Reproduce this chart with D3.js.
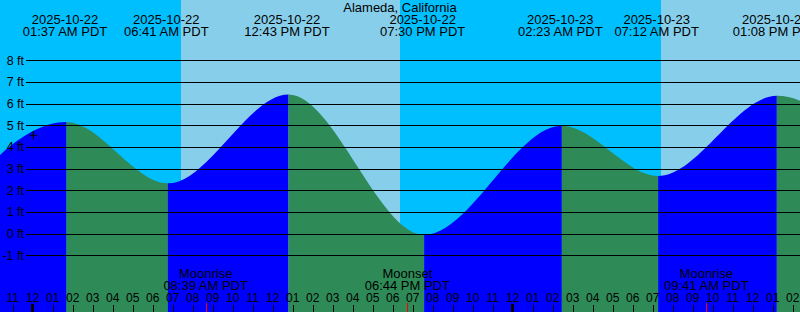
<!DOCTYPE html>
<html>
<head>
<meta charset="utf-8">
<script src="https://cdn.jsdelivr.net/npm/d3@7"></script>
<style>
  body { margin: 0; background: #fff; }
  svg { display: block; font-family: "Liberation Sans", Arial, sans-serif; }
</style>
</head>
<body>
<div id="chart"></div>
<script>
// chart data
var station = "Alameda, California";
var tideTimes = ["2025-10-21 18:40", "2025-10-22 01:37", "2025-10-22 06:41", "2025-10-22 12:43",
                 "2025-10-22 19:30", "2025-10-23 02:23", "2025-10-23 07:12", "2025-10-23 13:08",
                 "2025-10-23 20:20"];
var tideHeights = [-0.1, 5.15, 2.32, 6.42, -0.06, 4.98, 2.66, 6.36, 0.3];
var sunrises = ["2025-10-22 07:25", "2025-10-23 07:25"];
var sunsets = ["2025-10-21 18:21", "2025-10-22 18:22", "2025-10-23 18:21"];
var moonTimes = ["2025-10-22 08:39", "2025-10-22 18:44", "2025-10-23 09:41"];
var moonNames = ["Moonrise", "Moonset", "Moonrise"];
var nowMark = {time: "2025-10-22 00:02", height: 4.54};
var heightTicks = [-1, 0, 1, 2, 3, 4, 5, 6, 7, 8];

// set the dimensions of the graph
var width = 800,
    height = 312;

var parse = d3.utcParse("%Y-%m-%d %H:%M");
var fmtDate = d3.utcFormat("%Y-%m-%d"),
    fmtTime = d3.utcFormat("%I:%M %p PDT"),
    fmtHour = d3.utcFormat("%I");

var svg = d3.select("#chart")
  .append("svg")
    .attr("width", width)
    .attr("height", height);

var x = d3.scaleUtc()
    .domain([parse("2025-10-21 22:22"), parse("2025-10-23 14:22")])
    .range([0, width]);

var y = d3.scaleLinear()
    .domain([-1, 8])
    .range([255.3, 60.3]);

var tides = tideTimes.map(function(t, i) { return {time: parse(t), h: tideHeights[i]}; });

// night background, then day bands on top
svg.append("rect")
    .attr("width", width)
    .attr("height", height)
    .style("fill", "#00bfff");

var days = sunrises.map(function(s, i) { return [parse(s), parse(sunsets[i + 1])]; });
svg.selectAll("dayBand")
  .data(days)
  .enter()
  .append("rect")
    .attr("x", function(d) { return x(d[0]); })
    .attr("y", 0)
    .attr("width", function(d) { return x(d[1]) - x(d[0]); })
    .attr("height", height)
    .style("fill", "#87ceeb");

// tide area used as a clip, coloured by rising / falling
var area = d3.area()
    .curve(d3.curveMonotoneX)
    .x(function(d) { return x(d.time); })
    .y0(height)
    .y1(function(d) { return y(d.h); });

// the original plots its curve a touch right of the labels
var tideLayer = svg.append("g")
    .attr("transform", "translate(1.5,0)");

tideLayer.append("clipPath")
    .attr("id", "tideClip")
  .append("path")
    .attr("d", area(tides));

var segments = d3.pairs(tides);
tideLayer.append("g")
    .attr("clip-path", "url(#tideClip)")
  .selectAll("rect")
  .data(segments)
  .enter()
  .append("rect")
    .attr("x", function(d) { return x(d[0].time); })
    .attr("y", 0)
    .attr("width", function(d) { return x(d[1].time) - x(d[0].time); })
    .attr("height", height)
    .style("fill", function(d) { return d[1].h > d[0].h ? "#0000ff" : "#2e8b57"; });

// height grid lines and labels
svg.selectAll("gridLine")
  .data(heightTicks)
  .enter()
  .append("line")
    .attr("x1", 26)
    .attr("x2", width)
    .attr("y1", function(d) { return Math.round(y(d)) + 0.5; })
    .attr("y2", function(d) { return Math.round(y(d)) + 0.5; })
    .style("stroke", "black")
    .style("stroke-width", 1);

svg.selectAll("gridLabel")
  .data(heightTicks)
  .enter()
  .append("text")
    .attr("x", 24)
    .attr("y", function(d) { return y(d) + 4.5; })
    .attr("text-anchor", "end")
    .style("font-size", "12.5px")
    .text(function(d) { return d + " ft"; });

// title
svg.append("text")
    .attr("x", width / 2)
    .attr("y", 11.5)
    .attr("text-anchor", "middle")
    .style("font-size", "13px")
    .text(station);

// high / low labels at the top
var shown = tides.filter(function(d) { return d.time > x.domain()[0] && d.time < x.domain()[1]; });
var tideLabels = svg.selectAll("tideLabel")
  .data(shown)
  .enter()
  .append("text")
    .attr("text-anchor", "middle")
    .style("font-size", "13px");
tideLabels.append("tspan")
    .attr("x", function(d) { return x(d.time); })
    .attr("y", 24)
    .text(function(d) { return fmtDate(d.time); });
tideLabels.append("tspan")
    .attr("x", function(d) { return x(d.time); })
    .attr("y", 36)
    .text(function(d) { return fmtTime(d.time); });

// moon events
var moons = moonTimes.map(function(t, i) { return {time: parse(t), name: moonNames[i]}; });
var moonLabels = svg.selectAll("moonLabel")
  .data(moons)
  .enter()
  .append("text")
    .attr("text-anchor", "middle")
    .style("font-size", "13px");
moonLabels.append("tspan")
    .attr("x", function(d) { return x(d.time); })
    .attr("y", 277.5)
    .text(function(d) { return d.name; });
moonLabels.append("tspan")
    .attr("x", function(d) { return x(d.time); })
    .attr("y", 289.5)
    .text(function(d) { return fmtTime(d.time); });

// hour axis
var hours = d3.utcHour.range(x.domain()[0], x.domain()[1]);
svg.selectAll("hourLabel")
  .data(hours)
  .enter()
  .append("text")
    .attr("x", function(d) { return x(d); })
    .attr("y", 301.5)
    .attr("text-anchor", "middle")
    .style("font-size", "12px")
    .text(function(d) { return fmtHour(d); });

svg.selectAll("hourTick")
  .data(hours)
  .enter()
  .append("line")
    .attr("x1", function(d) { return d.getUTCHours() === 0 ? Math.round(x(d)) - 0.5 : Math.round(x(d)) + 0.5; })
    .attr("x2", function(d) { return d.getUTCHours() === 0 ? Math.round(x(d)) - 0.5 : Math.round(x(d)) + 0.5; })
    .attr("y1", function(d) { return d.getUTCHours() === 0 ? 304 : 305; })
    .attr("y2", height)
    .style("stroke", "black")
    .style("stroke-width", function(d) { return d.getUTCHours() === 0 ? 3 : 1; });

svg.selectAll("moonTick")
  .data(moons)
  .enter()
  .append("line")
    .attr("x1", function(d) { return Math.round(x(d.time)) + 0.5; })
    .attr("x2", function(d) { return Math.round(x(d.time)) + 0.5; })
    .attr("y1", 303)
    .attr("y2", height)
    .style("stroke", "red")
    .style("stroke-width", 1);

// current time marker
var mx = x(parse(nowMark.time)),
    my = y(nowMark.height);
svg.append("path")
    .attr("d", "M" + (mx - 4) + "," + my + "H" + (mx + 4) + "M" + mx + "," + (my - 4) + "V" + (my + 4))
    .style("stroke", "black")
    .style("stroke-width", 1.2)
    .style("fill", "none");
</script>
</body>
</html>
